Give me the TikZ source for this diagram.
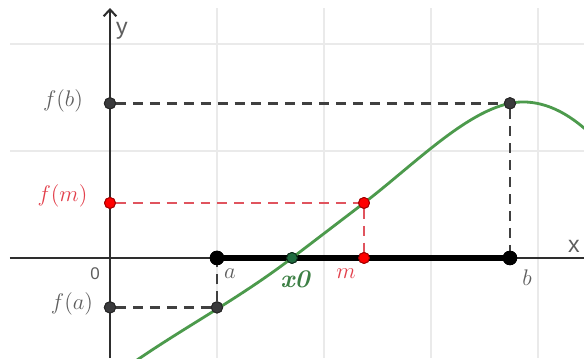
\documentclass[tikz,border=0pt]{standalone}
\usepackage{fontspec}
\setsansfont{Liberation Sans}
\usetikzlibrary{arrows.meta}
\definecolor{bisGrid}{HTML}{EAEAEA}
\definecolor{bisAxis}{HTML}{2E2E2E}
\definecolor{bisInk}{HTML}{5E5E5E}
\definecolor{bisGuide}{HTML}{404040}
\definecolor{bisDot}{HTML}{3A3A3C}
\definecolor{bisRed}{HTML}{FF0000}
\definecolor{bisRedEdge}{HTML}{A30000}
\definecolor{bisRedLine}{HTML}{E0545E}
\definecolor{bisRedInk}{HTML}{E23E4A}
\definecolor{bisCurve}{HTML}{4C9A4C}
\definecolor{bisGreenDot}{HTML}{1F6B3F}
\definecolor{bisGreenInk}{HTML}{3D8045}

\begin{document}
\begin{tikzpicture}[
  x=2cm, y=2cm,
  gridline/.style={bisGrid, line width=.6pt},
  axis/.style={bisAxis, line width=1.1pt},
  interval/.style={black, line width=2.7pt},
  guide/.style={bisGuide, line width=1.5pt, dash pattern=on 5.3pt off 3.7pt},
  redguide/.style={guide, bisRedLine},
  curve/.style={bisCurve, line width=1.5pt},
  dot/.style={circle, inner sep=0pt, minimum size=6pt, fill=bisDot,
    draw=black!85, line width=.5pt},
  enddot/.style={dot, minimum size=7.2pt, fill=black, draw=black},
  reddot/.style={dot, minimum size=5.8pt, fill=bisRed, draw=bisRedEdge},
  rootdot/.style={dot, minimum size=5.8pt, fill=bisGreenDot,
    draw=black!60!bisGreenDot},
  axlab/.style={font=\sffamily\fontsize{12.3}{14}\selectfont, text=bisInk},
  zerolab/.style={font=\sffamily\fontsize{9}{11}\selectfont, text=bisInk},
  lab/.style={font=\fontsize{13.2}{15}\selectfont, text=bisInk},
  redlab/.style={lab, text=bisRedInk},
  rootlab/.style={font=\bfseries\itshape\fontsize{13.5}{15}\selectfont,
    text=bisGreenInk},
]
\useasboundingbox (-1.028,-0.935) rectangle (4.430,2.411);

% ---- grid and axes -------------------------------------------------------
\draw[gridline, step=1] (-0.935,-0.935) grid (4.430,2.336);
\coordinate (xl) at (-0.935,0);
\coordinate (xr) at (4.430,0);
\coordinate (yb) at (0,-0.935);
\coordinate (yt) at (0,2.336);
\draw[axis] (xl) -- (xr);
\draw[axis, -{Straight Barb[length=3.6pt,width=6.8pt]}] (yb) -- (yt);
\node[axlab]   (ly)    at (0.112,2.121)  {y};
\node[axlab]   (lx)    at (4.336,0.112)  {x};
\node[zerolab] (lzero) at (-0.140,-0.150) {0};

% ---- the points ----------------------------------------------------------
\node[enddot]  (a)   at (1,0)          {};
\node[enddot]  (b)   at (3.738,0)      {};
\node[reddot]  (m)   at (2.374,0)      {};
\node[rootdot] (x0)  at (1.701,0)      {};
\node[dot]     (fa)  at (1,-0.462)     {};
\node[dot]     (fay) at (0,-0.462)     {};
\node[reddot]  (fm)  at (2.374,0.514)  {};
\node[reddot]  (fmy) at (0,0.514)      {};
\node[dot]     (fb)  at (3.738,1.445)  {};
\node[dot]     (fby) at (0,1.445)      {};

% ---- interval [a,b] and the guide lines ---------------------------------
\draw[interval] (a) -- (b);
\draw[guide]    (fby) -- (fb) -- (b);
\draw[guide]    (fay) -- (fa) -- (a);
\draw[redguide] (fmy) -- (fm) -- (m);

% ---- the function ---------------------------------------------------------
\begin{scope}
  \clip (-1.028,-0.935) rectangle (4.430,2.411);
  \draw[curve] (0.15,-1.025) .. controls (0.667,-0.66) and (1.184,-0.395)
    .. (1.701,0) -- (2.374,0.514) .. controls (2.874,0.897) and (3.41,1.458)
    .. (3.86,1.458) .. controls (4.09,1.458) and (4.32,1.339) .. (4.55,1.101);
\end{scope}

% redraw the points over the curve
\foreach \p/\s in {a/enddot, b/enddot, m/reddot, x0/rootdot, fa/dot,
    fay/dot, fm/reddot, fmy/reddot, fb/dot, fby/dot}
  \node[\s] at (\p) {};

% ---- labels ---------------------------------------------------------------
\node[lab]     (lfb) at (-0.439,1.467)  {$f(b)$};
\node[redlab]  (lfm) at (-0.444,0.579)  {$f(m)$};
\node[lab]     (lfa) at (-0.355,-0.430) {$f(a)$};
\node[lab]     (la)  at (1.121,-0.150)  {$a$};
\node[redlab]  (lm)  at (2.206,-0.150)  {$m$};
\node[lab]     (lb)  at (3.897,-0.187)  {$b$};
\node[rootlab] (lx0) at (1.729,-0.196)  {x0};
\end{tikzpicture}
\end{document}
